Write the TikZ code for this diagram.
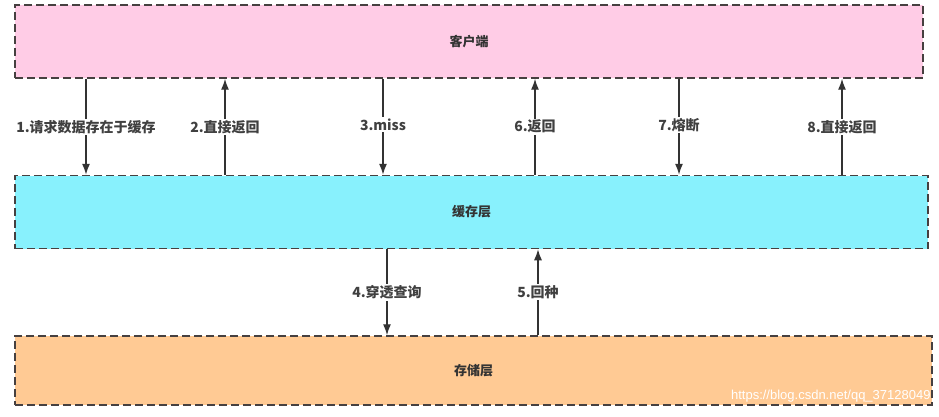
\documentclass[tikz,border=0pt]{standalone}
\usepackage{fontspec}
\newfontfamily\cjk{Noto Sans CJK SC}
\setsansfont{Liberation Sans}
\usetikzlibrary{arrows.meta, calc}

\definecolor{clientpink}{RGB}{255,204,230}
\definecolor{cachecyan}{RGB}{136,241,253}
\definecolor{storeorange}{RGB}{255,202,148}
\definecolor{edgegray}{RGB}{70,64,64}
\definecolor{arrowgray}{RGB}{51,51,51}

\tikzset{
    layer/.style={draw=edgegray, line width=1.5pt, dash pattern=on 8pt off 4pt,
        inner sep=0pt, font=\cjk\bfseries\fontsize{13}{15}\selectfont, text=black!80},
    flow/.style={draw=arrowgray, line width=1.3pt, -{Latex[length=11pt, width=8pt]}},
    flowlabel/.style={fill=white, inner sep=1.5pt, font=\cjk\bfseries\fontsize{14}{16}\selectfont, text=black!75}
}

\begin{document}
\begin{tikzpicture}[x=1pt, y=-1pt]
    \useasboundingbox (0,0) rectangle (939,417);

    \node[layer, fill=clientpink, minimum width=908pt, minimum height=73pt] (client) at (469,41.5) {客户端};
    \node[layer, fill=cachecyan, minimum width=913pt, minimum height=73pt] (cache) at (471.5,212) {缓存层};
    \node[layer, fill=storeorange, minimum width=917pt, minimum height=69pt] (store) at (473.5,370.5) {存储层};

    \coordinate (x1) at (86,0);
    \coordinate (x2) at (225,0);
    \coordinate (x3) at (383,0);
    \coordinate (x4) at (387,0);
    \coordinate (x5) at (538,0);
    \coordinate (x6) at (535,0);
    \coordinate (x7) at (679,0);
    \coordinate (x8) at (842,0);

    % client <-> cache
    \draw[flow] (client.south -| x1) -- node[flowlabel, pos=.5]{1.请求数据存在于缓存} (cache.north -| x1);
    \draw[flow] (cache.north -| x2) -- node[flowlabel, pos=.5]{2.直接返回} (client.south -| x2);
    \draw[flow] (client.south -| x3) -- node[flowlabel, pos=.48]{3.miss} (cache.north -| x3);
    \draw[flow] (cache.north -| x6) -- node[flowlabel, pos=.5]{6.返回} (client.south -| x6);
    \draw[flow] (client.south -| x7) -- node[flowlabel, pos=.48]{7.熔断} (cache.north -| x7);
    \draw[flow] (cache.north -| x8) -- node[flowlabel, pos=.5]{8.直接返回} (client.south -| x8);

    % cache <-> store
    \draw[flow] (cache.south -| x4) -- node[flowlabel, pos=.5]{4.穿透查询} (store.north -| x4);
    \draw[flow] (store.north -| x5) -- node[flowlabel, pos=.5]{5.回种} (cache.south -| x5);

    \node[anchor=east, inner sep=0pt, text=white, font=\sffamily\fontsize{13}{15}\selectfont] (mark) at ($(store.south east)+(-2,-10)$) {https://blog.csdn.net/qq\_37128049};
\end{tikzpicture}
\end{document}
